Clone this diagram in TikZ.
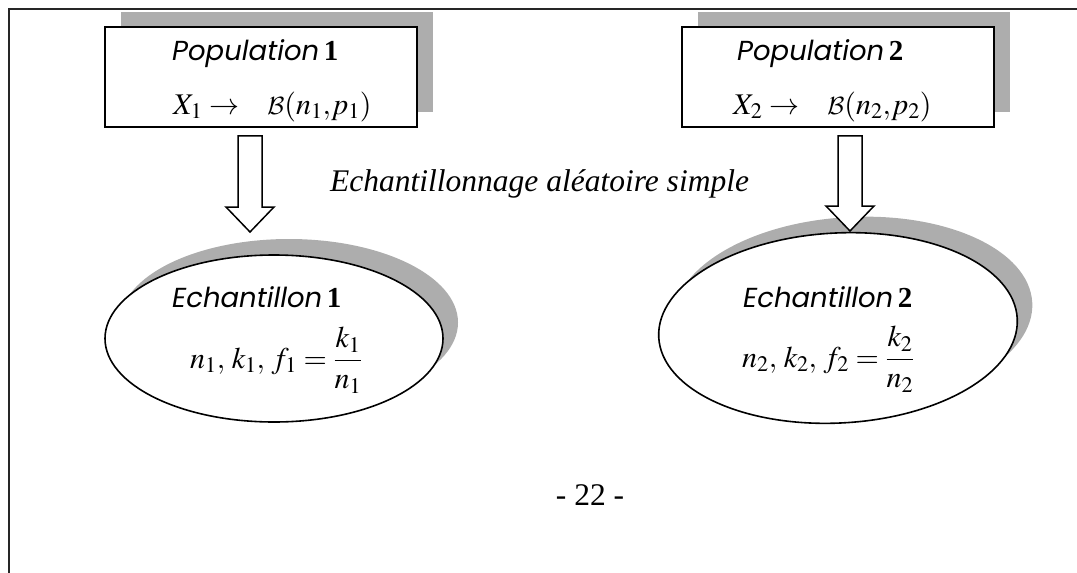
\documentclass[tikz,border=0pt]{standalone}
\usepackage{mathptmx}
\DeclareMathAlphabet{\mathcal}{OMS}{cmsy}{m}{n}
\usepackage{fontspec}
\setmainfont{Liberation Serif}
\newfontfamily\comicfont{Poppins}
\usetikzlibrary{shapes.geometric,shadows,calc}
\newcommand{\blockarr}[2]{%
  \draw[blockarrow] ($(#1)+(-12,0)$) -- ($(#2)+(-12,-25)$) -- ($(#2)+(-24,-25)$) -- (#2)
    -- ($(#2)+(24,-25)$) -- ($(#2)+(12,-25)$) -- ($(#1)+(12,0)$) -- cycle;}
\begin{document}
\begin{tikzpicture}[x=1pt,y=-1pt,
  frameline/.style={draw=black!85, line width=1.3pt},
  shadowfill/.style={fill=black!32},
  popbox/.style={draw, line width=1.6pt, fill=white, rectangle,
    minimum width=312pt, minimum height=100pt, inner sep=0pt,
    drop shadow={shadow xshift=16pt, shadow yshift=15pt, shadowfill, opacity=1}},
  echell/.style={draw, line width=1.6pt, fill=white, ellipse, inner sep=0pt,
    drop shadow={shadow xshift=15pt, shadow yshift=16pt, shadowfill, opacity=1}},
  blockarrow/.style={draw, line width=1.5pt, fill=white, line join=miter},
  titletext/.style={inner sep=0pt, anchor=base west, font=\fontsize{27.5}{32}\selectfont},
  mathtext/.style={inner sep=0pt, anchor=base west, font=\fontsize{30}{34}\selectfont},
  plaintext/.style={inner sep=0pt, font=\fontsize{31.5}{36}\selectfont}
]
\useasboundingbox (0,0) rectangle (1077,573);
% page frame
\draw[frameline] (9,573) -- (9,9) -- (1077,9);

% population boxes
\node[popbox] (pop1) at (261,77) {};
\node[popbox] (pop2) at (838,77) {};
\node[titletext] (pop1t) at (172,60) {{\comicfont\itshape Population}\,\textbf{\fontsize{29}{32}\selectfont 1}};
\node[mathtext] (pop1m) at (173,114) {$X_1 \rightarrow\;\ \ \mathcal{B}(n_1{,}p_1)$};
\node[titletext] (pop2t) at (737,60) {{\comicfont\itshape Population}\,\textbf{\fontsize{29}{32}\selectfont 2}};
\node[mathtext] (pop2m) at (733,114) {$X_2 \rightarrow\;\ \ \mathcal{B}(n_2{,}p_2)$};

% sample ellipses
\node[echell, minimum width=338pt, minimum height=167pt] (ech1) at (274,338.5) {};
\node[echell, minimum width=359pt, minimum height=190pt, rotate=3] (ech2) at (838,328) {};
\node[titletext] (ech1t) at (172,307) {{\comicfont\itshape Echantillon}\,\textbf{\fontsize{29}{32}\selectfont 1}};
\node[mathtext] (ech1m) at (190,368) {$n_1,\, k_1,\, f_1 = \displaystyle\frac{k_1}{n_1}$};
\node[titletext] (ech2t) at (743,307) {{\comicfont\itshape Echantillon}\,\textbf{\fontsize{29}{32}\selectfont 2}};
\node[mathtext] (ech2m) at (742,367) {$n_2,\, k_2,\, f_2 = \displaystyle\frac{k_2}{n_2}$};

% block arrows
\coordinate (a1s) at ($(pop1.south)+(-11,8)$);
\coordinate (a1t) at (250,232);
\coordinate (a2s) at ($(pop2.south)+(12,8)$);
\coordinate (a2t) at (850,231);
\blockarr{a1s}{a1t}
\blockarr{a2s}{a2t}

% labels
\node[plaintext, anchor=base west] (ech) at (330,191) {\itshape Echantillonnage aléatoire simple};
\node[plaintext, anchor=base] (page) at (590,505) {- 22 -};
\end{tikzpicture}
\end{document}
